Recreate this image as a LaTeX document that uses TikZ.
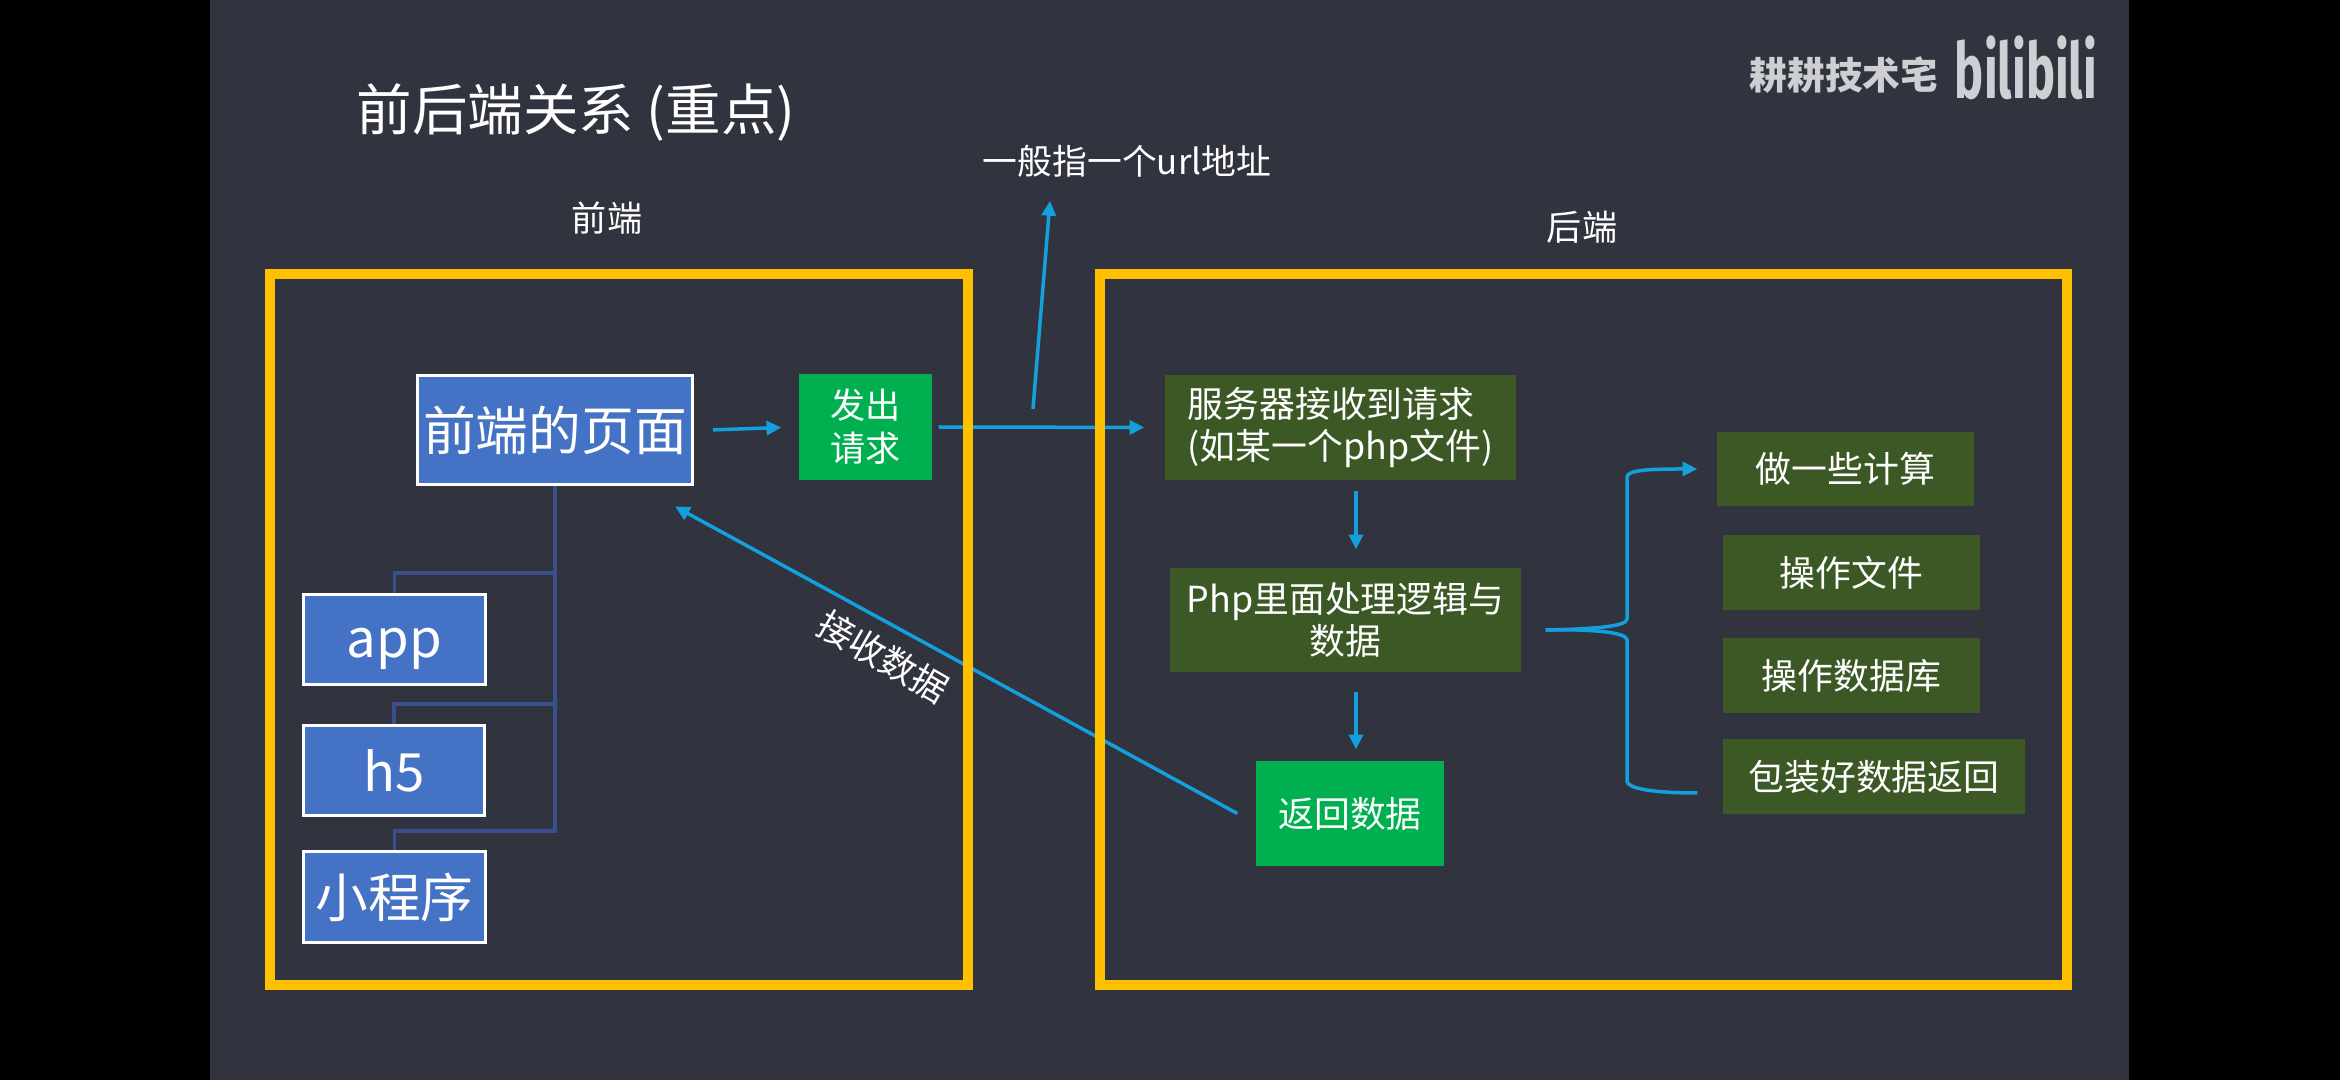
\documentclass[tikz,border=0pt]{standalone}
\usepackage{fontspec}
\setmainfont{Noto Sans CJK SC}
\newfontfamily\logofont{Fira Sans}
\usetikzlibrary{arrows.meta}
\definecolor{slatebg}{HTML}{31343F}
\definecolor{framegold}{HTML}{FFC000}
\definecolor{pageblue}{HTML}{4472C4}
\definecolor{treeblue}{HTML}{3A4F8C}
\definecolor{flowblue}{HTML}{13A0DC}
\definecolor{brightgreen}{HTML}{00B050}
\definecolor{darkgreen}{HTML}{3B5825}
\definecolor{markgray}{HTML}{CDCFD2}
\tikzset{
  framebox/.style={draw=framegold,line width=0.10cm,inner sep=0pt},
  bluebox/.style={draw=white,line width=0.03cm,fill=pageblue,text=white,inner sep=0pt,font=\fontsize{15}{18}\selectfont},
  greenbox/.style={fill=brightgreen,text=white,inner sep=0pt,align=center,font=\fontsize{10}{12.2}\selectfont},
  darkbox/.style={fill=darkgreen,text=white,inner sep=0pt,align=center,font=\fontsize{10.2}{11.95}\selectfont},
  caption/.style={text=white,inner sep=0pt,font=\fontsize{10}{12}\selectfont},
  tree/.style={draw=treeblue,line width=0.035cm},
  flow/.style={draw=flowblue,line width=0.035cm,-{Triangle[length=4.2pt,width=4pt]}},
  flowbare/.style={draw=flowblue,line width=0.035cm},
}
\begin{document}
\begin{tikzpicture}
\useasboundingbox (0,0) rectangle (23.40,10.80);
\fill[black] (0,0) rectangle (23.40,10.80);
\fill[slatebg] (2.10,0) rectangle (21.29,10.80);
% text above the frames
\node[caption,font=\fontsize{15.8}{18}\selectfont] (title) at (5.76,9.68) {前后端关系 (重点)};
\node[caption] (fronttitle) at (6.07,8.62) {前端};
\node[caption] (backtitle) at (15.82,8.53) {后端};
\node[caption,font=\fontsize{9.9}{12}\selectfont] (urlnote) at (11.27,9.19) {一般指一个url地址};
\node[text=markgray,inner sep=0pt,font=\fontsize{10.7}{13}\bfseries\selectfont] (owner) at (18.44,10.05) {耕耕技术宅};
\node[text=markgray,inner sep=0pt,xscale=0.63,font=\fontsize{22}{26}\bfseries\logofont] (logo) at (20.26,10.12) {bilibili};
% front end
\node[bluebox,minimum width=2.75cm,minimum height=1.09cm] (page) at (5.55,6.495) {前端的页面};
\node[bluebox,minimum width=1.82cm,minimum height=0.90cm,text height=0.50cm,text depth=0.14cm] (app) at (3.945,4.405) {app};
\node[bluebox,minimum width=1.81cm,minimum height=0.90cm] (hfive) at (3.94,3.095) {h5};
\node[bluebox,minimum width=1.82cm,minimum height=0.91cm] (mini) at (3.945,1.83) {小程序};
\node[greenbox,minimum width=1.33cm,minimum height=1.06cm] (ask) at (8.655,6.53) {发出\\请求};
% back end
\node[darkbox,align=left,minimum width=3.51cm,minimum height=1.05cm] (server) at (13.405,6.525) {服务器接收到请求\\(如某一个php文件)};
\node[darkbox,minimum width=3.51cm,minimum height=1.04cm] (php) at (13.455,4.60) {Php里面处理逻辑与\\数据};
\node[greenbox,font=\fontsize{10.2}{12}\selectfont,minimum width=1.88cm,minimum height=1.05cm] (back) at (13.50,2.665) {返回数据};
\node[darkbox,minimum width=2.57cm,minimum height=0.74cm] (calc) at (18.455,6.11) {做一些计算};
\node[darkbox,minimum width=2.57cm,minimum height=0.75cm] (file) at (18.515,5.075) {操作文件};
\node[darkbox,minimum width=2.57cm,minimum height=0.75cm] (db) at (18.515,4.045) {操作数据库};
\node[darkbox,minimum width=3.02cm,minimum height=0.75cm] (pack) at (18.74,3.035) {包装好数据返回};
\node[caption,font=\fontsize{10.2}{12}\selectfont,rotate=-30] (recv) at (8.83,4.23) {接收数据};
% tree under the page box
\coordinate (appdrop) at (3.945,5.07);
\coordinate (hfivedrop) at (3.94,3.76);
\coordinate (minidrop) at (3.945,2.49);
\draw[tree] (page.south) |- (appdrop) -- (app.north);
\draw[tree] (page.south) |- (hfivedrop) -- (hfive.north);
\draw[tree] (page.south) |- (minidrop) -- (mini.north);
% arrows
\coordinate (urlfoot) at (10.33,6.71);
\coordinate (urltip) at (10.50,8.79);
\draw[flow,shorten <=0.19cm,shorten >=0.17cm] (page.east) -- (ask.west);
\draw[flow,shorten <=0.06cm,shorten >=0.20cm] (ask.east) -- (server.west);
\draw[flow] (urlfoot) -- (urltip);
\draw[flow] ([xshift=0.155cm,yshift=-0.10cm]server.south) -- ([xshift=0.105cm,yshift=0.18cm]php.north);
\draw[flow] ([xshift=0.105cm,yshift=-0.19cm]php.south) -- ([xshift=0.06cm,yshift=0.11cm]back.north);
\draw[flow] ([xshift=-0.18cm]back.west) -- ([xshift=-0.19cm,yshift=-0.20cm]page.south east);
% brace to the right of the php box
\coordinate (bracefoot) at ([xshift=0.24cm,yshift=-0.10cm]php.east);
\coordinate (bracetop) at ([xshift=-0.19cm]calc.west);
\coordinate (bracelow) at ([xshift=-0.25cm,yshift=-0.165cm]pack.west);
\draw[flow] (bracefoot) .. controls (15.90,4.51) and (16.27,4.53) .. (16.27,4.61) -- (16.27,6.03) .. controls (16.27,6.10) and (16.50,6.11) .. (bracetop);
\draw[flowbare] (bracefoot) .. controls (15.90,4.51) and (16.27,4.48) .. (16.27,4.40) -- (16.27,2.99) .. controls (16.27,2.92) and (16.50,2.87) .. (bracelow);
% frames last, they lie over the arrows
\node[framebox,minimum width=6.98cm,minimum height=7.11cm] (frontframe) at (6.19,4.505) {};
\node[framebox,minimum width=9.67cm,minimum height=7.11cm] (backframe) at (15.835,4.505) {};
\end{tikzpicture}
\end{document}
